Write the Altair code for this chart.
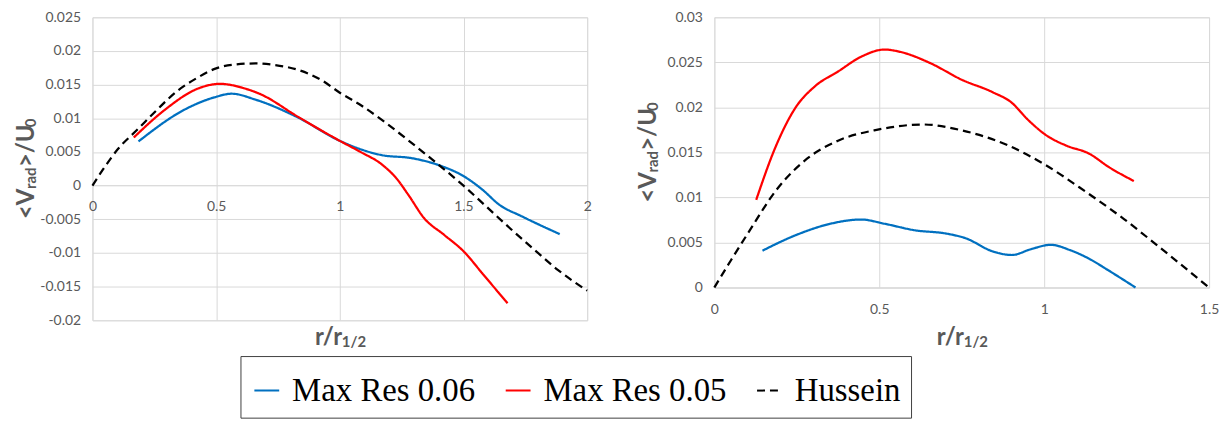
import altair as alt
import pandas as pd

SERIES = ["Max Res 0.06", "Max Res 0.05", "Hussein"]
COLORS = ["#0070C0", "#FF0000", "#000000"]
DASHES = [[1, 0], [1, 0], [8, 5]]

# Left panel
L_blue_r = [0.186, 0.373, 0.492, 0.563, 0.659, 0.833, 1.0, 1.167, 1.294, 1.405, 1.5, 1.579, 1.643, 1.738, 1.889]
L_blue_v = [0.00656, 0.0113, 0.0131, 0.01365, 0.01277, 0.01008, 0.00665, 0.00455, 0.00406, 0.00298, 0.00142, -0.00068, -0.00279, -0.0046, -0.0072]
L_red_r = [0.167, 0.294, 0.421, 0.516, 0.611, 0.675, 0.833, 1.0, 1.087, 1.167, 1.23, 1.278, 1.341, 1.421, 1.5, 1.579, 1.678]
L_red_v = [0.00714, 0.0113, 0.01433, 0.01512, 0.01448, 0.01365, 0.01018, 0.00665, 0.00494, 0.00323, 0.00103, -0.00142, -0.00484, -0.00729, -0.00974, -0.01316, -0.01747]
L_huss_r = [0.0, 0.04, 0.103, 0.183, 0.262, 0.341, 0.421, 0.5, 0.579, 0.659, 0.738, 0.833, 0.929, 1.0, 1.087, 1.183, 1.278, 1.373, 1.5, 1.595, 1.69, 1.786, 1.881, 2.0]
L_huss_v = [0.0, 0.00225, 0.00543, 0.00837, 0.0113, 0.014, 0.01595, 0.01742, 0.018, 0.01815, 0.0179, 0.01717, 0.0156, 0.0138, 0.0119, 0.0094, 0.0067, 0.0039, 0.0, -0.0032, -0.0064, -0.0095, -0.0125, -0.0156]

# Right panel
R_blue_r = [0.146, 0.246, 0.352, 0.445, 0.516, 0.609, 0.703, 0.762, 0.844, 0.902, 0.961, 1.02, 1.078, 1.137, 1.195, 1.277]
R_blue_v = [0.00409, 0.0058, 0.00708, 0.00755, 0.00708, 0.00635, 0.00599, 0.00547, 0.00401, 0.00361, 0.00427, 0.00474, 0.00416, 0.00318, 0.0019, 0.0]
R_red_r = [0.127, 0.1875, 0.246, 0.305, 0.375, 0.445, 0.516, 0.5625, 0.656, 0.75, 0.844, 0.902, 0.949, 1.008, 1.066, 1.137, 1.195, 1.272]
R_red_v = [0.00974, 0.01577, 0.01996, 0.02234, 0.02398, 0.02562, 0.02642, 0.02617, 0.02489, 0.02307, 0.02168, 0.02051, 0.01869, 0.01686, 0.01577, 0.01485, 0.0134, 0.01182]
R_huss_r = [0.0, 0.05, 0.105, 0.1875, 0.281, 0.375, 0.492, 0.633, 0.75, 0.891, 1.0, 1.125, 1.242, 1.359, 1.5]
R_huss_v = [0.0, 0.0030, 0.0062, 0.0108, 0.0143, 0.0163, 0.0175, 0.0181, 0.01745, 0.01577, 0.01369, 0.01066, 0.0076, 0.0042, 0.0]

L_XTICKS = [0, 0.5, 1, 1.5, 2]
L_YTICKS = [-0.02, -0.015, -0.01, -0.005, 0, 0.005, 0.01, 0.015, 0.02, 0.025]
R_XTICKS = [0, 0.5, 1, 1.5]
R_YTICKS = [0, 0.005, 0.01, 0.015, 0.02, 0.025, 0.03]

YTITLE = [("<V", 24), ("rad", 15), (">/U", 24), ("0", 15)]
XTITLE = [("r/r", 24), ("1/2", 15)]
# estimated run widths for placing the mixed-size title runs
YT_W = [30.2, 22.0, 40.1, 8.7]
XT_W = [27.1, 23.0]


def frame(pairs):
    rows = []
    for name, rs, vs in pairs:
        for r, v in zip(rs, vs):
            rows.append({"series": name, "r": r, "v": v})
    return pd.DataFrame(rows)


left_df = frame([(SERIES[0], L_blue_r, L_blue_v), (SERIES[1], L_red_r, L_red_v), (SERIES[2], L_huss_r, L_huss_v)])
right_df = frame([(SERIES[0], R_blue_r, R_blue_v), (SERIES[1], R_red_r, R_red_v), (SERIES[2], R_huss_r, R_huss_v)])

FONT = "Lato"
GRID = "#D9D9D9"
LBL = "#595959"

LEG = alt.Legend(
    orient="none", legendX=149, legendY=341, direction="horizontal",
    title=" ", titleFontSize=3, titlePadding=5,
    symbolType="stroke", symbolSize=625, symbolStrokeWidth=2,
    labelFont="Liberation Serif", labelFontSize=33, labelColor="#000000", labelLimit=0,
    labelOffset=9, columnPadding=26, padding=10,
    strokeColor="#404040", fillColor="#FFFFFF",
)


def text_piece(t, size, x, y, angle=0):
    return alt.Chart(pd.DataFrame({"t": [t]})).mark_text(
        font=FONT, fontSize=size, fontWeight="bold", color=LBL,
        align="left", baseline="alphabetic", angle=angle,
    ).encode(text="t:N", x=alt.value(x), y=alt.value(y))


def panel(df, xdom, ydom, xt, yt, w, h, xoffset, xlabpad, title_y):
    fmt = "replace(format(datum.value, '.3~f'), '\u2212', '-')"
    lines = alt.Chart(df).mark_line(interpolate="monotone", strokeWidth=2.25).encode(
        x=alt.X("r:Q", scale=alt.Scale(domain=xdom, nice=False, zero=False),
                axis=alt.Axis(values=xt, offset=xoffset, grid=True, gridColor=GRID,
                              domain=True, domainColor=GRID, ticks=False,
                              labelPadding=xlabpad, labelFont=FONT, labelFontSize=14,
                              labelColor=LBL, labelFlush=False, title=None,
                              labelExpr="replace(format(datum.value, '.1~f'), '\u2212', '-')")),
        y=alt.Y("v:Q", scale=alt.Scale(domain=ydom, nice=False, zero=False),
                axis=alt.Axis(values=yt, grid=True, gridColor=GRID, domain=False, ticks=False,
                              labelPadding=12, labelFont=FONT, labelFontSize=14,
                              labelColor=LBL, labelFlush=False, title=None, labelExpr=fmt)),
        color=alt.Color("series:N", scale=alt.Scale(domain=SERIES, range=COLORS), legend=LEG),
        strokeDash=alt.StrokeDash("series:N", scale=alt.Scale(domain=SERIES, range=DASHES), legend=LEG),
    )

    layers = [lines]
    # y title (rotated, bottom to top)
    total = sum(YT_W)
    pos = h / 2 + total / 2
    for (t, s), wdt in zip(YTITLE, YT_W):
        bx = -59 if s == 24 else -57
        layers.append(text_piece(t, s, bx, pos, angle=270))
        pos -= wdt
    # x title
    totx = sum(XT_W)
    px = w / 2 - totx / 2
    for (t, s), wdt in zip(XTITLE, XT_W):
        by = title_y if s == 24 else title_y + 2
        layers.append(text_piece(t, s, px, by))
        px += wdt
    return alt.layer(*layers).properties(width=w, height=h)


left = panel(left_df, [0, 2], [-0.02, 0.025], L_XTICKS, L_YTICKS, 498, 305, -136, 14, 330)
right = panel(right_df, [0, 1.5], [0, 0.03], R_XTICKS, R_YTICKS, 498, 272, 0, 15, 330)

chart = alt.hconcat(left, right, spacing=44).properties(
    padding={"left": 6, "top": 0, "right": 0, "bottom": 0}
).configure_view(stroke=None).configure(background="#FFFFFF")

chart.save("out.html", embed_options={"renderer": "svg", "actions": False})
